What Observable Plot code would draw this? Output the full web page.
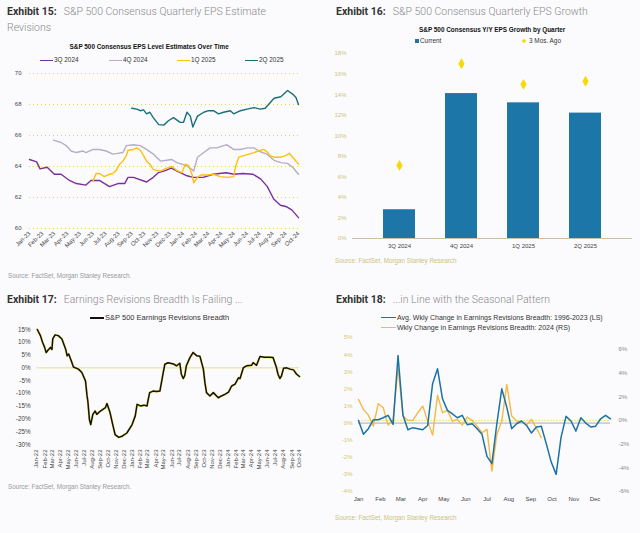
<!DOCTYPE html>
<html><head><meta charset="utf-8">
<script src="https://cdn.jsdelivr.net/npm/d3@7"></script>
<script src="https://cdn.jsdelivr.net/npm/@observablehq/plot@0.6"></script>
<style>
body{margin:0;background:#fbfbfd;}
#root{position:relative;width:640px;height:533px;overflow:hidden;background:#fbfbfd;font-family:"Liberation Sans",Arial,sans-serif;}
.abs{position:absolute;white-space:nowrap;}
.title{font-family:Roboto,sans-serif;font-weight:300;font-size:10.5px;line-height:10.5px;color:#8a8a8a;}
.title b{font-weight:700;color:#333;margin-right:7px;}
.ctitle{font-weight:700;font-size:6.4px;line-height:7px;color:#111;}
.leg{font-size:6.4px;line-height:6.4px;color:#333;}
.src{font-size:6.3px;line-height:6.3px;color:#999;}
.sw{display:inline-block;vertical-align:middle;margin-right:1px;}
</style></head>
<body><div id="root"></div>
<script>
// ---------- Exhibit 15 data ----------
const epsQuarters = ["3Q 2024","4Q 2024","1Q 2025","2Q 2025"];
const eps3Q24 = [["2023-01-01",64.45],["2023-01-18",64.3],["2023-01-26",63.85],["2023-02-12",63.95],["2023-03-01",63.5],["2023-03-17",63.5],["2023-04-06",63.1],["2023-04-22",62.9],["2023-05-15",62.8],["2023-05-27",63.1],["2023-06-16",63.1],["2023-07-10",62.7],["2023-07-30",62.9],["2023-08-15",62.9],["2023-08-23",63.3],["2023-09-05",63.3],["2023-10-06",63.0],["2023-10-22",63.3],["2023-11-03",63.6],["2023-11-16",63.7],["2023-12-04",63.9],["2023-12-25",63.6],["2024-01-10",63.4],["2024-01-25",63.3],["2024-02-18",63.3],["2024-03-12",63.5],["2024-04-12",63.6],["2024-05-01",63.5],["2024-05-21",63.55],["2024-06-15",63.5],["2024-07-03",63.2],["2024-07-19",62.7],["2024-08-03",61.9],["2024-08-19",61.5],["2024-09-03",61.4],["2024-09-15",61.2],["2024-10-01",60.7]];
const eps4Q24 = [["2023-02-27",65.7],["2023-03-17",65.55],["2023-03-29",65.35],["2023-04-10",65.0],["2023-04-22",64.9],["2023-05-08",65.0],["2023-05-15",64.9],["2023-06-01",65.1],["2023-06-16",65.1],["2023-07-02",65.0],["2023-07-18",64.8],["2023-07-30",64.85],["2023-08-11",64.9],["2023-08-19",65.35],["2023-09-05",65.4],["2023-09-21",65.35],["2023-10-06",65.1],["2023-10-22",64.8],["2023-11-08",64.35],["2023-11-23",64.4],["2023-12-05",64.45],["2023-12-17",64.25],["2023-12-29",64.15],["2024-01-10",64.05],["2024-01-22",63.8],["2024-01-26",63.7],["2024-02-04",64.6],["2024-02-19",64.9],["2024-03-05",65.2],["2024-03-21",65.2],["2024-04-06",65.35],["2024-04-14",65.4],["2024-04-30",65.1],["2024-05-16",65.1],["2024-06-01",65.2],["2024-06-17",65.2],["2024-07-02",64.95],["2024-07-18",64.8],["2024-08-04",64.4],["2024-08-20",64.25],["2024-09-05",64.2],["2024-09-17",63.95],["2024-10-01",63.5]];
const eps1Q25 = [["2023-06-01",63.05],["2023-06-08",63.55],["2023-06-16",63.55],["2023-06-28",63.35],["2023-07-10",63.5],["2023-07-18",63.55],["2023-07-26",63.75],["2023-08-03",64.15],["2023-08-11",64.35],["2023-08-19",64.7],["2023-08-23",65.05],["2023-09-05",65.1],["2023-09-13",65.2],["2023-09-21",65.05],["2023-09-29",64.7],["2023-10-06",64.35],["2023-10-14",64.15],["2023-10-22",63.8],["2023-11-08",63.7],["2023-11-23",63.9],["2023-12-05",64.0],["2023-12-17",63.75],["2023-12-29",63.6],["2024-01-06",64.15],["2024-01-14",64.05],["2024-01-22",63.5],["2024-01-26",62.95],["2024-02-04",63.3],["2024-02-12",63.45],["2024-02-28",63.45],["2024-03-13",63.5],["2024-03-29",63.35],["2024-04-14",63.3],["2024-04-30",63.35],["2024-05-04",63.95],["2024-05-12",64.6],["2024-05-24",64.7],["2024-06-05",64.8],["2024-06-17",64.9],["2024-06-28",65.0],["2024-07-10",65.1],["2024-07-18",64.95],["2024-07-26",64.7],["2024-08-04",64.6],["2024-08-20",64.6],["2024-09-01",64.7],["2024-09-09",64.85],["2024-09-17",64.6],["2024-09-25",64.35],["2024-10-01",64.15]];
const eps2Q25 = [["2023-09-01",67.76],["2023-09-13",67.7],["2023-09-21",67.6],["2023-09-29",67.65],["2023-10-06",67.4],["2023-10-14",67.5],["2023-10-22",67.15],["2023-11-04",66.7],["2023-11-16",66.67],["2023-11-27",66.95],["2023-12-09",67.15],["2023-12-25",66.85],["2024-01-02",66.85],["2024-01-10",67.5],["2024-01-18",67.25],["2024-01-24",66.55],["2024-02-04",67.25],["2024-02-19",67.5],["2024-03-01",67.6],["2024-03-13",67.6],["2024-03-25",67.4],["2024-04-06",67.5],["2024-04-22",67.6],["2024-04-30",67.4],["2024-05-16",67.6],["2024-06-01",67.7],["2024-06-17",67.8],["2024-07-02",67.7],["2024-07-14",67.76],["2024-07-26",68.13],["2024-08-04",68.4],["2024-08-20",68.5],["2024-09-05",68.9],["2024-09-17",68.67],["2024-09-25",68.45],["2024-10-01",68.0]];
const epsColors = ["#7a2f9e","#b6adc6","#ffc107","#176f78"];
const epsYTicks = [60,62,64,66,68,70];

// ---------- Exhibit 16 data ----------
const growthQuarters = ["3Q 2024","4Q 2024","1Q 2025","2Q 2025"];
const growthCurrent = [2.8, 14.1, 13.2, 12.2];
const growth3MosAgo = [7.1, 17.0, 15.0, 15.3];
const growthYTicks = [0,2,4,6,8,10,12,14,16,18];

// ---------- Exhibit 17 data ----------
const breadth = [["2022-01-04",15],["2022-01-16",12.6],["2022-01-24",10],["2022-02-01",8.0],["2022-02-07",6.0],["2022-02-12",6.7],["2022-02-18",7.4],["2022-02-23",8.0],["2022-03-01",7.2],["2022-03-04",11.3],["2022-03-13",12.9],["2022-03-25",12.6],["2022-04-08",11.3],["2022-04-22",7.4],["2022-04-28",4.7],["2022-05-04",5.4],["2022-05-16",2.1],["2022-05-22",0.3],["2022-06-10",-0.5],["2022-06-23",-1.8],["2022-07-07",-5.1],["2022-07-13",-11],["2022-07-16",-13],["2022-07-22",-20.2],["2022-07-27",-22.2],["2022-08-04",-18.2],["2022-08-13",-16.9],["2022-08-19",-18.2],["2022-09-02",-16.9],["2022-09-21",-15.6],["2022-09-27",-14],["2022-10-09",-17.6],["2022-10-19",-22.2],["2022-10-28",-26.1],["2022-11-11",-27.2],["2022-11-23",-26.8],["2022-12-12",-25.5],["2023-01-01",-22.2],["2023-01-13",-18.8],["2023-01-20",-14.3],["2023-02-02",-14.9],["2023-02-15",-14.6],["2023-02-27",-14.9],["2023-03-03",-12.6],["2023-03-09",-9.7],["2023-03-22",-9.1],["2023-04-04",-9.3],["2023-04-17",-9.1],["2023-04-30",-1.8],["2023-05-06",1.4],["2023-05-18",2.0],["2023-06-08",1.5],["2023-06-20",0.8],["2023-07-02",1.8],["2023-07-08",-2.5],["2023-07-15",-4.2],["2023-07-21",-3.0],["2023-07-27",0.8],["2023-08-10",4.1],["2023-08-22",6.0],["2023-09-05",4.7],["2023-09-17",4.5],["2023-09-30",-0.5],["2023-10-06",-5.8],["2023-10-12",-9.7],["2023-10-25",-11],["2023-11-07",-9.7],["2023-11-26",-11.7],["2023-12-08",-11],["2023-12-21",-10.4],["2024-01-04",-9.5],["2024-01-16",-7.1],["2024-01-29",-6.4],["2024-02-11",-3.9],["2024-02-17",-4.2],["2024-03-01",0.1],["2024-03-13",0.8],["2024-04-01",1.0],["2024-04-07",2.0],["2024-04-20",1.0],["2024-05-03",4.4],["2024-05-21",4.1],["2024-06-10",4.1],["2024-06-22",4.0],["2024-07-05",0.1],["2024-07-11",-2.5],["2024-07-18",-4.2],["2024-07-24",-3.2],["2024-08-01",-0.2],["2024-08-13",0],["2024-08-26",-0.5],["2024-09-08",-0.8],["2024-09-20",-2.5],["2024-10-01",-3.4]];
const breadthYTicks = [15,10,5,0,-5,-10,-15,-20,-25,-30];

// ---------- Exhibit 18 data ----------
const monthLabels = ["Jan","Feb","Mar","Apr","May","Jun","Jul","Aug","Sep","Oct","Nov","Dec"];
const avgWklyChg = [0.15,-0.66,-0.33,0.19,0.19,0.31,0.45,-0.08,3.95,0.45,-0.39,-0.27,-0.33,-0.39,-0.14,2.3,3.17,1.42,0.74,0.54,0.31,0.45,-0.1,-0.04,-0.33,-0.66,-1.95,-2.37,-0.04,2.0,0.93,-0.33,-0.04,0.12,-0.14,-0.58,-0.23,-0.19,-1.2,-2.28,-3.0,-0.82,0.39,0.12,-0.47,0.31,0,-0.23,-0.18,0.25,0.45,0.25];
const wklyChg2024 = [1.77,0.93,0.45,-0.48,1.41,1.07,-0.39,0.08,4.45,0.37,0,0,0.65,1.21,-0.06,-1.24,2.14,0.65,0.85,-0.06,0.08,-0.39,0.28,0,-0.48,-1.04,-0.76,-4.28,-1.18,-0.06,3.04,0.37,-0.06,-0.11,-0.39,0.08,-0.62,-1.46];
const leftTicks = [-4,-3,-2,-1,0,1,2,3,4,5];
const rightTicks = [-6,-4,-2,0,2,4,6];

// ---------- helpers ----------
const root = document.getElementById("root");
function place(el, left, top){const d=document.createElement("div");d.className="abs";d.style.left=left+"px";d.style.top=top+"px";d.appendChild(el);root.appendChild(d);return d;}
function txt(html, left, cy, cls, extra){const d=document.createElement("div");d.className="abs "+cls;d.innerHTML=html;if(extra)Object.assign(d.style,extra);root.appendChild(d);const h=d.offsetHeight;d.style.left=left+"px";d.style.top=(cy-h/2)+"px";return d;}
function centered(html, cx, cy, cls){const d=txt(html,0,cy,cls);d.style.left=(cx-d.offsetWidth/2)+"px";return d;}
const pct = d => (d<0?"-":"")+Math.abs(d)+"%";
const toObjs = arr => arr.map(([d,v])=>({date:new Date(d),value:v}));
const lineSw = (c,w=13,h=1.5)=>`<span class="sw" style="width:${w}px;height:${h}px;background:${c}"></span>`;

// ================= Exhibit 15 =================
txt("<b>Exhibit 15:</b>S&amp;P 500 Consensus Quarterly EPS Estimate", 7, 12.5, "title");
txt("Revisions", 7, 28.5, "title");
centered("S&amp;P 500 Consensus EPS Level Estimates Over Time", 149, 46, "ctitle");
[[40,0],[109,1],[177,2],[245,3]].forEach(([x,i])=>txt(lineSw(epsColors[i])+epsQuarters[i], x, 60, "leg"));
const epsSeries = [eps4Q24, eps3Q24, eps1Q25, eps2Q25];
const epsColorOrder = [epsColors[1], epsColors[0], epsColors[2], epsColors[3]];
const p1 = Plot.plot({
  width: 310, height: 190, marginLeft: 29, marginRight: 12, marginTop: 7, marginBottom: 28,
  style: {background:"transparent", fontSize:"6px", fontFamily:"Liberation Sans, Arial", color:"#444"},
  x: {type:"utc", domain:[new Date("2023-01-01"), new Date("2024-10-01")], label:null},
  y: {domain:[60,70], label:null},
  marks: [
    Plot.gridY(epsYTicks, {stroke:"#e6da3a", strokeOpacity:1, strokeDasharray:"1,3"}),
    Plot.axisY(epsYTicks, {tickSize:0, tickPadding:8, label:null}),
    Plot.axisX(d3.utcMonths(new Date("2023-01-01"), new Date("2024-10-02")), {tickFormat:d3.utcFormat("%b-%y"), tickRotate:-45, tickSize:0, tickPadding:4, label:null}),
    ...epsSeries.map((s,i)=>Plot.lineY(toObjs(s), {x:"date", y:"value", stroke:epsColorOrder[i], strokeWidth:1.4}))
  ]
});
place(p1, 0, 66);
txt("Source: FactSet, Morgan Stanley Research.", 8, 276, "src");

// ================= Exhibit 16 =================
txt("<b>Exhibit 16:</b>S&amp;P 500 Consensus Quarterly EPS Growth", 336, 12.5, "title");
centered("S&amp;P 500 Consensus Y/Y EPS Growth by Quarter", 492, 29, "ctitle");
txt(`<span class="sw" style="width:4px;height:4px;background:#1d76a8"></span>Current`, 415, 41, "leg");
txt(`<span class="sw" style="width:4px;height:4px;background:#f5d90a;transform:rotate(45deg) scale(0.8);margin-right:3px"></span>3 Mos. Ago`, 522, 41, "leg");
const growthData = growthQuarters.map((q,i)=>({q, cur:growthCurrent[i], ago:growth3MosAgo[i]}));
const p2 = Plot.plot({
  width: 320, height: 215, marginLeft: 32, marginRight: 8, marginTop: 8, marginBottom: 22,
  style: {background:"transparent", fontSize:"6px", fontFamily:"Liberation Sans, Arial", color:"#444"},
  x: {domain:growthQuarters, padding:0.48, label:null},
  y: {domain:[0,18], label:null},
  marks: [
    Plot.axisY(growthYTicks, {tickSize:0, tickPadding:6, tickFormat:d=>d+"%", fill:"#cbc37a", label:null}),
    Plot.axisX({tickSize:0, tickPadding:5, label:null}),
    Plot.barY(growthData, {x:"q", y:"cur", fill:"#1d76a8"}),
    Plot.ruleY([0], {stroke:"#c8c3a8", strokeWidth:1}),
    Plot.dot(growthData, {x:"q", y:"ago", symbol:"diamond", fill:"#f5d90a", r:3.3})
  ]
});
place(p2, 320, 45);
txt("Source: FactSet, Morgan Stanley Research", 335, 261, "src", {color:"#cbc37a"});

// ================= Exhibit 17 =================
txt("<b>Exhibit 17:</b>Earnings Revisions Breadth Is Failing ...", 7, 300, "title");
txt(lineSw("#111",14,1.6)+"S&amp;P 500 Earnings Revisions Breadth", 90, 318, "leg", {fontSize:"7.5px", lineHeight:"7.5px"});
const brData = toObjs(breadth);
const p3 = Plot.plot({
  width: 310, height: 160, marginLeft: 36, marginRight: 11, marginTop: 9, marginBottom: 36,
  style: {background:"transparent", fontSize:"6px", fontFamily:"Liberation Sans, Arial", color:"#444"},
  x: {type:"utc", domain:[new Date("2022-01-01"), new Date("2024-10-01")], label:null},
  y: {domain:[-30,15], label:null},
  marks: [
    Plot.axisY(breadthYTicks, {tickSize:0, tickPadding:6, tickFormat:pct, label:null, fontSize:"6.3px"}),
    Plot.axisX(d3.utcMonths(new Date("2022-01-01"), new Date("2024-10-02")), {tickFormat:d3.utcFormat("%b-%y"), tickRotate:-90, tickSize:0, tickPadding:5, label:null}),
    Plot.ruleY([0], {stroke:"#e8df70", strokeWidth:0.9}),
    Plot.lineY(brData, {x:"date", y:"value", stroke:"#eedc2a", strokeWidth:2.3, strokeOpacity:0.7}),
    Plot.lineY(brData, {x:"date", y:"value", stroke:"#111", strokeWidth:1.5})
  ]
});
place(p3, 0, 320);
txt("Source: FactSet, Morgan Stanley Research.", 8, 487, "src");

// ================= Exhibit 18 =================
txt("<b>Exhibit 18:</b>...in Line with the Seasonal Pattern", 336, 300, "title");
txt(lineSw("#1a72a8",15,1.4)+"Avg. Wkly Change in Earnings Revisions Breadth: 1996-2023 (LS)", 381, 317, "leg", {fontSize:"7px", lineHeight:"7px"});
txt(lineSw("#f5b947",15,1.4)+"Wkly Change in Earnings Revisions Breadth: 2024 (RS)", 381, 327, "leg", {fontSize:"7px", lineHeight:"7px"});
const wk0 = new Date("2024-01-01");
const weekDate = i => d3.utcDay.offset(wk0, 7*i);
const toLeft = r => -4 + (r + 6) * 9 / 13;
const fromLeft = l => (l + 4) * 13 / 9 - 6;
const avgData = avgWklyChg.map((v,i)=>({date:weekDate(i), value:v}));
const curData = wklyChg2024.map((v,i)=>({date:weekDate(i), value:toLeft(v)}));
const monthStarts = monthLabels.map((m,i)=>new Date(Date.UTC(2024,i,1)));
const p4 = Plot.plot({
  width: 320, height: 180, marginLeft: 38, marginRight: 30, marginTop: 7, marginBottom: 19,
  style: {background:"transparent", fontSize:"6px", fontFamily:"Liberation Sans, Arial", color:"#444"},
  x: {type:"utc", domain:[weekDate(0), weekDate(51)], label:null},
  y: {domain:[-4,5], label:null},
  marks: [
    Plot.axisY(leftTicks, {tickSize:0, tickPadding:6, tickFormat:pct, fill:"#d2c868", label:null}),
    Plot.axisY(rightTicks.map(toLeft), {anchor:"right", tickSize:0, tickPadding:8, tickFormat:d=>pct(Math.round(fromLeft(d))), fill:"#888", label:null}),
    Plot.axisX(monthStarts, {tickFormat:(d,i)=>monthLabels[d.getUTCMonth()], tickSize:0, tickPadding:5, label:null}),
    Plot.ruleY([0], {stroke:"#aaa", strokeWidth:1}),
    Plot.ruleY([toLeft(0)], {stroke:"#ebe060", strokeWidth:0.8, strokeDasharray:"2,1"}),
    Plot.lineY(curData, {x:"date", y:"value", stroke:"#f5b947", strokeWidth:1.4}),
    Plot.lineY(avgData, {x:"date", y:"value", stroke:"#1a72a8", strokeWidth:1.5})
  ]
});
place(p4, 320, 330);
txt("Source: FactSet, Morgan Stanley Research", 335, 518, "src", {color:"#cbc37a"});
</script></body></html>
